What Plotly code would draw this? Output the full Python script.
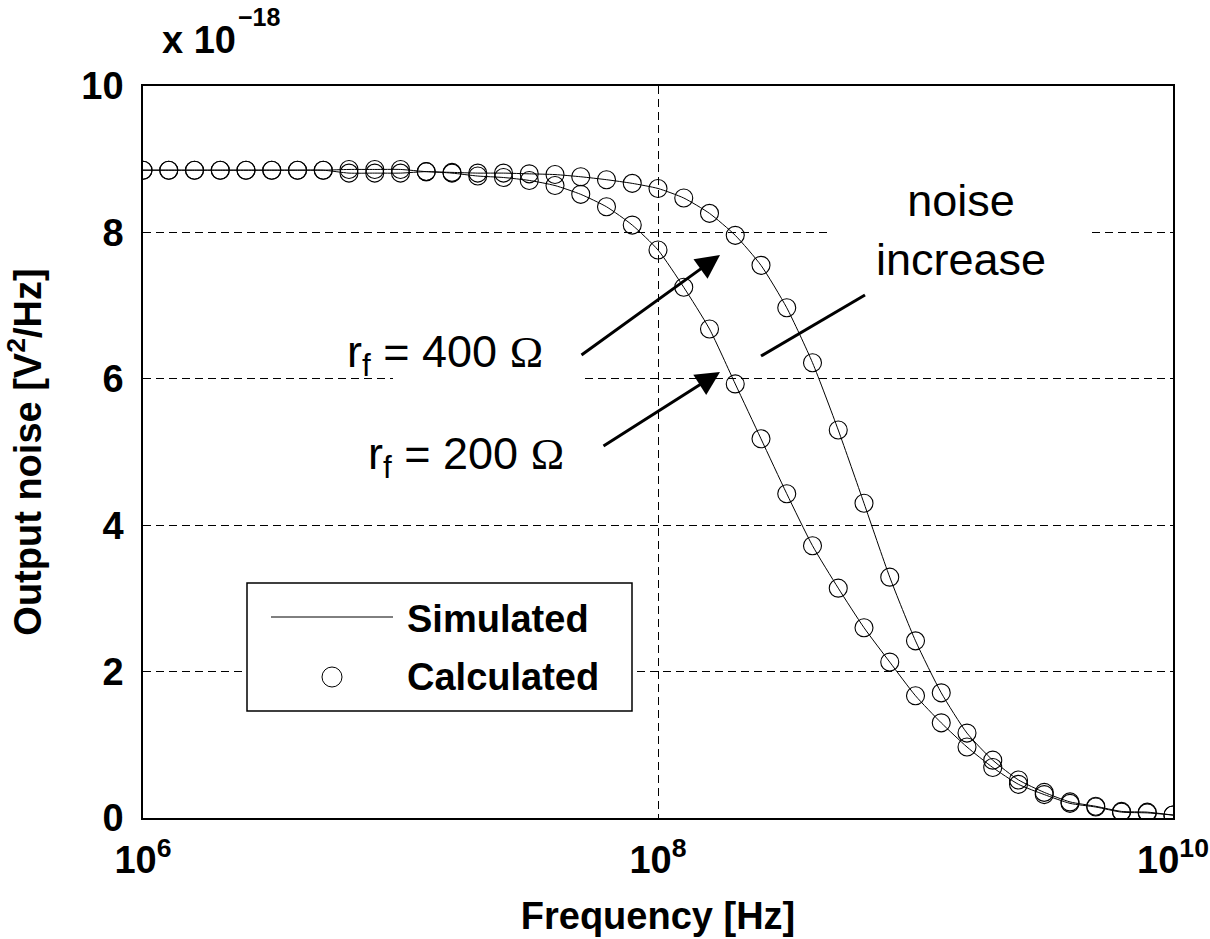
import plotly.graph_objects as go

# ---------------- data ----------------
freq_exp = [6.0, 6.1, 6.2, 6.3, 6.4, 6.5, 6.6, 6.7, 6.8, 6.9,
            7.0, 7.1, 7.2, 7.3, 7.4, 7.5, 7.6, 7.7, 7.8, 7.9,
            8.0, 8.1, 8.2, 8.3, 8.4, 8.5, 8.6, 8.7, 8.8, 8.9,
            9.0, 9.1, 9.2, 9.3, 9.4, 9.5, 9.6, 9.7, 9.8, 9.9, 10.0]
freq_hz = [10 ** e for e in freq_exp]

noise_rf400 = [8.85, 8.85, 8.85, 8.85, 8.85, 8.85, 8.85, 8.85, 8.86, 8.86,
               8.86, 8.83, 8.82, 8.81, 8.81, 8.80, 8.79, 8.76, 8.72, 8.67,
               8.60, 8.47, 8.26, 7.96, 7.55, 6.97, 6.22, 5.30, 4.30, 3.29,
               2.42, 1.71, 1.16, 0.79, 0.52, 0.35, 0.22, 0.16, 0.09, 0.08, 0.04]
noise_rf200 = [8.85, 8.85, 8.85, 8.85, 8.85, 8.85, 8.85, 8.85, 8.81, 8.81,
               8.81, 8.83, 8.81, 8.77, 8.75, 8.71, 8.64, 8.52, 8.35, 8.10,
               7.76, 7.25, 6.68, 5.93, 5.18, 4.43, 3.72, 3.14, 2.60, 2.13,
               1.67, 1.30, 0.97, 0.69, 0.46, 0.32, 0.20, 0.15, 0.08, 0.07, 0.04]

x_tick_vals = [1e6, 1e8, 1e10]
x_tick_text = ["10<sup>6</sup>", "10<sup>8</sup>", "10<sup>10</sup>"]
y_tick_vals = [0, 2, 4, 6, 8, 10]
y_tick_text = ["0", "2", "4", "6", "8", "10"]

# ---------------- geometry helpers (pixel -> paper) ----------------
W, H = 1210, 939
L, R, T, B = 143, 1173, 86, 818


def px(p):
    return (p - L) / (R - L)


def py(p):
    return (B - p) / (B - T)


FONT = "Liberation Sans, Arial, sans-serif"
BOLD = dict(family=FONT, size=38, color="black", weight="bold")

fig = go.Figure()
for series in (noise_rf200, noise_rf400):
    fig.add_trace(go.Scatter(x=freq_hz, y=series, mode="lines",
                             line=dict(color="black", width=1, shape="spline", smoothing=0.6),
                             showlegend=False, hoverinfo="skip"))
    fig.add_trace(go.Scatter(x=freq_hz, y=series, mode="markers",
                             marker=dict(symbol="circle-open", size=18, color="black",
                                         line=dict(width=1.1)),
                             showlegend=False))

axis_common = dict(showline=True, mirror=True, linecolor="black", linewidth=1.5,
                   showgrid=True, gridcolor="black", gridwidth=1, griddash="8px,5px",
                   ticks="", zeroline=False, tickfont=BOLD, automargin=False)

fig.update_xaxes(type="log", range=[6, 10], tickvals=x_tick_vals, ticktext=x_tick_text,
                 ticklabelstandoff=8,
                 title=dict(text="Frequency [Hz]", font=BOLD, standoff=22), **axis_common)
fig.update_yaxes(range=[0, 10], tickvals=y_tick_vals, ticktext=y_tick_text,
                 ticklabelstandoff=10,
                 title=dict(text="Output noise [V<sup>2</sup>/Hz]", font=BOLD, standoff=28),
                 **axis_common)

shapes = [
    # white gaps in gridlines behind the annotation boxes
    dict(type="rect", xref="paper", yref="paper", x0=px(828), x1=px(1088), y0=py(244), y1=py(220),
         fillcolor="white", line=dict(width=0), layer="above"),
    dict(type="rect", xref="paper", yref="paper", x0=px(393), x1=px(582), y0=py(388), y1=py(368),
         fillcolor="white", line=dict(width=0), layer="above"),
    # "noise increase" marker line
    dict(type="line", xref="paper", yref="paper", x0=px(761), y0=py(356), x1=px(865), y1=py(295),
         line=dict(color="black", width=3)),
    # custom legend
    dict(type="rect", xref="paper", yref="paper", x0=px(247), x1=px(632), y0=py(711), y1=py(583),
         fillcolor="white", line=dict(color="black", width=1.5), layer="above"),
    dict(type="line", xref="paper", yref="paper", x0=px(271), x1=px(393), y0=py(617), y1=py(617),
         line=dict(color="black", width=1)),
    dict(type="circle", xref="paper", yref="paper", x0=px(322), x1=px(342), y0=py(687), y1=py(667),
         line=dict(color="black", width=1)),
]

ann = [
    dict(text="x 10", x=px(160), y=py(40), xanchor="left", yanchor="middle", font=BOLD),
    dict(text="\u221218", x=px(236), y=py(17), xanchor="left", yanchor="middle",
         font=dict(family=FONT, size=25, color="black", weight="bold")),
    dict(text="r<sub>f</sub> = 400 <span style='font-family:Liberation Serif'>\u03a9</span>",
         x=px(345), y=py(354), xanchor="left", yanchor="middle",
         font=dict(family=FONT, size=45, color="black")),
    dict(text="r<sub>f</sub> = 200 <span style='font-family:Liberation Serif'>\u03a9</span>",
         x=px(366), y=py(456), xanchor="left", yanchor="middle",
         font=dict(family=FONT, size=45, color="black")),
    dict(text="noise<br>increase", x=px(961), y=py(230), xanchor="center", yanchor="middle",
         font=dict(family=FONT, size=45, color="black")),
    dict(text="", x=px(720), y=py(255), ax=-140, ay=101, showarrow=True,
         arrowhead=2, arrowwidth=3, arrowsize=1.6, arrowcolor="black"),
    dict(text="", x=px(720), y=py(372), ax=-118, ay=75, showarrow=True,
         arrowhead=2, arrowwidth=3, arrowsize=1.6, arrowcolor="black"),
    dict(text="Simulated", x=px(405), y=py(619), xanchor="left", yanchor="middle", font=BOLD),
    dict(text="Calculated", x=px(405), y=py(677), xanchor="left", yanchor="middle", font=BOLD),
]
for a in ann:
    a.setdefault("xref", "paper")
    a.setdefault("yref", "paper")
    a.setdefault("showarrow", False)

fig.update_layout(width=W, height=H, margin=dict(l=L, r=W - R, t=T, b=H - B),
                  paper_bgcolor="white", plot_bgcolor="white",
                  font=dict(family=FONT, color="black"),
                  shapes=shapes, annotations=ann, showlegend=False)

fig.write_html("out.html")
